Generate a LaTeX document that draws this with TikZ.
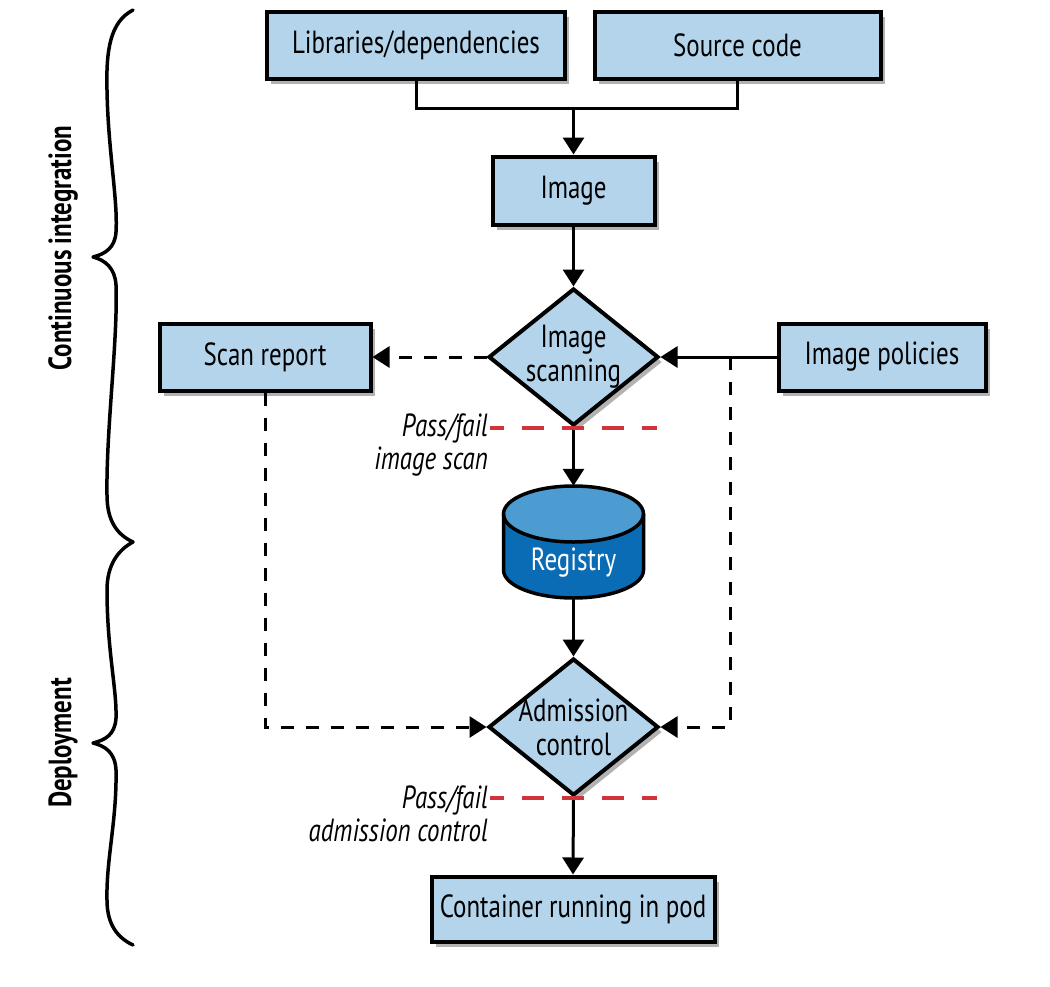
\documentclass[tikz,border=0pt]{standalone}
\usepackage{fontspec}
\setmainfont[FakeStretch=0.78]{PT Sans}
\usetikzlibrary{arrows.meta,shapes.geometric,shadows}
\definecolor{boxblue}{RGB}{179,212,234}
\definecolor{reglight}{RGB}{76,156,209}
\definecolor{regdark}{RGB}{10,108,181}
\definecolor{passred}{RGB}{208,52,58}
\begin{document}
\begin{tikzpicture}[x=1pt,y=-1pt,
  txt/.style={font=\fontsize{32}{34}\selectfont},
  box/.style={txt, draw=black, line width=4pt, fill=boxblue, inner sep=0pt,
    drop shadow={shadow xshift=4pt, shadow yshift=-5pt, opacity=0.3, fill=black}},
  dia/.style={diamond, draw=black, line width=4pt, fill=boxblue, inner sep=0pt,
    minimum width=170pt, minimum height=137pt,
    drop shadow={shadow xshift=4pt, shadow yshift=-5pt, opacity=0.3, fill=black}},
  conn/.style={line width=3pt, -{Triangle[length=17pt,width=21pt]}},
  plain/.style={line width=3pt},
  dconn/.style={line width=3pt, dash pattern=on 13pt off 12pt, -{Triangle[length=17pt,width=21pt]}},
  redline/.style={line width=3.5pt, passred, dash pattern=on 22pt off 18pt, dash phase=8pt},
  brace/.style={line width=3.5pt, line cap=round, line join=round},
  passlbl/.style={font=\fontsize{32}{33}\selectfont\itshape, align=right, anchor=east, inner sep=0pt},
  side/.style={font=\fontsize{32}{34}\selectfont\bfseries, rotate=90, inner sep=0pt}
]
\useasboundingbox (0,0) rectangle (1050,986);

% boxes
\node[box, minimum width=298pt, minimum height=67pt] (lib) at (416,45) {Libraries/dependencies};
\node[box, minimum width=286pt, minimum height=67pt] (src) at (737.5,45) {Source code};
\node[box, minimum width=162pt, minimum height=68pt] (img) at (573.5,190.5) {Image};
\node[dia, label={[txt, align=center]center:Image\\scanning}] (scan) at (573.5,357) {};
\node[box, minimum width=211pt, minimum height=67pt] (rep) at (265,357) {Scan report};
\node[box, minimum width=207pt, minimum height=67pt] (pol) at (882,357) {Image policies};
\node[inner sep=0pt, minimum width=140pt, minimum height=112pt] (reg) at (573.5,542) {};
\node[dia, label={[txt, align=center]center:Admission\\control}] (adm) at (573.5,727) {};
\node[box, minimum width=283pt, minimum height=65pt] (pod) at (573,909) {Container running in pod};

% registry cylinder
\fill[regdark] (503.5,514) rectangle (643.5,570);
\fill[regdark] (573.5,570) ellipse [x radius=70pt, y radius=28pt];
\fill[reglight] (573.5,514) ellipse [x radius=70pt, y radius=28pt];
\draw[line width=3.5pt] (503.5,514) -- (503.5,570) arc[start angle=180, end angle=360, x radius=70pt, y radius=28pt] -- (643.5,514);
\draw[line width=3.5pt] (573.5,514) ellipse [x radius=70pt, y radius=28pt];
\node[txt, text=white, inner sep=0pt] (regtxt) at (573.5,563) {Registry};

% connectors
\coordinate (merge) at (573.5,108);
\draw[plain] (lib.south) |- (merge) -| (src.south);
\draw[conn] (merge) -- (img.north);
\draw[conn] (img.south) -- (scan.north);
\draw[dconn] (scan.west) -- (rep.east);
\draw[conn] (pol.west) -- (scan.east);
\coordinate (split) at (730,357);
\draw[dconn] (split) |- (adm.east);
\draw[dconn] (rep.south) |- (adm.west);
\draw[conn] (scan.south) -- (reg.north);
\draw[conn] (reg.south) -- (adm.north);
\draw[conn] (adm.south) -- (pod.north);

% pass/fail lines
\coordinate (r1a) at (490,428);
\coordinate (r1b) at (657,428);
\draw[redline] (r1a) -- (r1b);
\coordinate (r2a) at (490,798);
\coordinate (r2b) at (657,798);
\draw[redline] (r2a) -- (r2b);
\node[passlbl] (pf1) at (488,445) {Pass/fail\\image scan};
\node[passlbl] (pf2) at (488,814) {Pass/fail\\admission control};

% braces
\draw[brace] (133,10) .. controls (110,22) and (106,50) .. (107,90)
  .. controls (108,150) and (118,200) .. (116,232)
  .. controls (115,248) and (105,254) .. (93,257)
  .. controls (105,260) and (115,268) .. (116,285)
  .. controls (118,340) and (106,430) .. (107,495)
  .. controls (107,522) and (118,535) .. (133,542);
\draw[brace] (133,542) .. controls (118,550) and (107,565) .. (107,590)
  .. controls (107,650) and (117,690) .. (116,718)
  .. controls (115,735) and (105,740) .. (93,743)
  .. controls (105,746) and (115,752) .. (116,770)
  .. controls (117,820) and (106,860) .. (107,900)
  .. controls (107,925) and (118,938) .. (133,945);
\node[side] (ci) at (63,248) {Continuous integration};
\node[side] (dep) at (63,743) {Deployment};
\end{tikzpicture}
\end{document}
